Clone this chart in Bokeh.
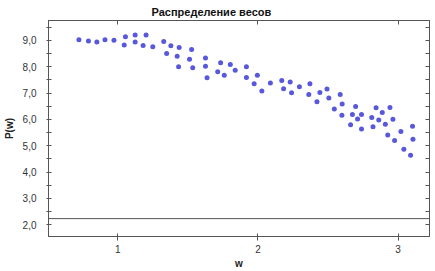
from bokeh.plotting import figure
from bokeh.models import (LinearAxis, FixedTicker, CustomJSTickFormatter, Span,
                          Range1d, ColumnDataSource, Title)
from bokeh.embed import file_html
from bokeh.resources import INLINE

title_text = "Распределение весов"
x_label = "w"
y_label = "P(w)"

w_values = [0.723, 0.791, 0.851, 0.909, 0.973, 1.055, 1.046, 1.124, 1.124, 1.202,
            1.181, 1.250, 1.328, 1.379, 1.349, 1.438, 1.424, 1.434, 1.527, 1.512,
            1.626, 1.535, 1.626, 1.637, 1.734, 1.803, 1.713, 1.760, 1.838, 1.918,
            1.918, 1.996, 1.973, 2.028, 2.089, 2.170, 2.230, 2.183, 2.240, 2.296,
            2.371, 2.363, 2.442, 2.493, 2.421, 2.506, 2.587, 2.601, 2.545, 2.599,
            2.697, 2.661, 2.674, 2.711, 2.739, 2.739, 2.812, 2.821, 2.843, 2.862,
            2.887, 2.942, 2.909, 2.963, 2.926, 2.975, 3.020, 3.103, 3.106, 3.041,
            3.089]
p_values = [9.03, 8.98, 8.94, 9.03, 9.01, 9.14, 8.83, 9.21, 8.94, 9.21,
            8.81, 8.76, 8.96, 8.80, 8.51, 8.73, 8.40, 8.00, 8.66, 8.29,
            8.33, 7.96, 8.02, 7.58, 8.15, 8.09, 7.81, 7.68, 7.87, 8.00,
            7.59, 7.68, 7.36, 7.08, 7.38, 7.48, 7.42, 7.17, 7.01, 7.24,
            7.36, 6.95, 7.02, 7.16, 6.67, 6.81, 6.95, 6.59, 6.40, 6.16,
            6.49, 5.80, 6.19, 6.02, 6.19, 5.64, 6.07, 5.72, 6.44, 5.98,
            6.26, 6.45, 5.82, 6.01, 5.41, 5.20, 5.54, 5.74, 5.25, 4.87,
            4.64]
baseline_value = 2.23

x_ticks = [1, 2, 3]
y_ticks = [2, 3, 4, 5, 6, 7, 8, 9]
y_minor_ticks = [1.5, 2.5, 3.5, 4.5, 5.5, 6.5, 7.5, 8.5, 9.5]

FONT = "Liberation Sans"
AX = "#555555"

src = ColumnDataSource(dict(w=w_values, p=p_values))

p = figure(width=435, height=271, output_backend="svg", toolbar_location=None,
           x_range=Range1d(0.506, 3.224), y_range=Range1d(1.55, 9.76),
           x_axis_location=None, y_axis_location=None,
           min_border_left=46, min_border_right=6, min_border_top=0,
           min_border_bottom=35, title=None)
p.grid.visible = False
p.outline_line_color = AX
p.background_fill_color = "white"
p.border_fill_color = "white"

fmt_y = CustomJSTickFormatter(code="return tick.toFixed(1).replace('.', ',');")
fmt_x = CustomJSTickFormatter(code="return tick.toFixed(0);")
fmt_blank = CustomJSTickFormatter(code="return '';")

yt = FixedTicker(ticks=y_ticks, minor_ticks=y_minor_ticks)
xt = FixedTicker(ticks=x_ticks, minor_ticks=[])

left = LinearAxis(ticker=yt, formatter=fmt_y, axis_label=y_label)
bottom = LinearAxis(ticker=xt, formatter=fmt_x, axis_label=x_label)
right = LinearAxis(ticker=FixedTicker(ticks=y_ticks, minor_ticks=y_minor_ticks),
                   formatter=fmt_blank)
top = LinearAxis(ticker=FixedTicker(ticks=x_ticks, minor_ticks=[]),
                 formatter=fmt_blank)

for ax in (left, bottom, right, top):
    ax.axis_line_color = AX
    ax.major_tick_line_color = AX
    ax.minor_tick_line_color = AX
    ax.major_label_text_font = FONT
    ax.major_label_text_font_size = "10px"
    ax.major_label_text_color = "#333333"
    ax.axis_label_text_font = FONT
    ax.axis_label_text_font_size = "10px"
    ax.axis_label_text_font_style = "bold"
    ax.axis_label_text_color = "#222222"

left.major_tick_in = 3
left.major_tick_out = 2
left.minor_tick_in = 3
left.minor_tick_out = 2
left.major_label_standoff = 10
left.axis_label_standoff = 5

bottom.major_tick_in = 3
bottom.major_tick_out = 4
bottom.major_label_standoff = 4
bottom.axis_label_standoff = 2

for ax in (right, top):
    ax.major_label_standoff = 0
    ax.major_tick_out = 0
    ax.minor_tick_out = 0
    ax.major_tick_in = 4
    ax.minor_tick_in = 4

p.add_layout(left, "left")
p.add_layout(bottom, "below")
p.add_layout(right, "right")
p.add_layout(top, "above")

p.add_layout(Title(text=title_text, align="left", offset=103,
                   text_font=FONT, text_font_size="11px",
                   text_font_style="bold", text_color="#111111",
                   standoff=6), "above")

p.add_layout(Span(location=baseline_value, dimension="width",
                  line_color=AX, line_width=1))

p.scatter("w", "p", source=src, size=5, fill_color="#2020d0",
          fill_alpha=0.75, line_color=None)

open("out.html", "w").write(file_html(p, INLINE))
